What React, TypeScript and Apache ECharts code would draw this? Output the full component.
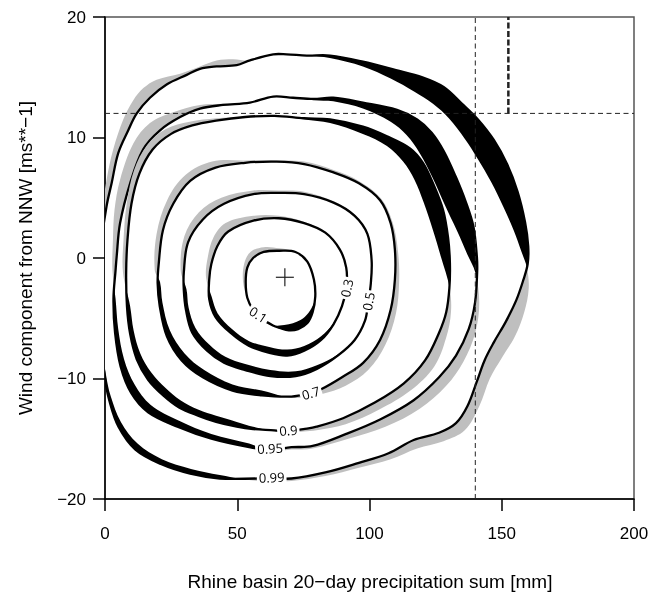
import React, { useEffect, useRef } from 'react';
import * as echarts from 'echarts';

// ---- axes ----
const xTicks = [0, 50, 100, 150, 200];
const yTicks = [-20, -10, 0, 10, 20];

// ---- reference lines ----
const hRef = 12;
const vRef = 140;
const vRef2 = 152.5;
const centerMark = [68, -1.6];

// ---- contour curves (black line "L" and companion curve "O") ----
const L099 = [[-2, 0], [0.6, 4.3], [2.5, 6.2], [5.0, 8.7], [8.8, 10.6], [12.0, 12.0], [17.0, 13.3], [23.3, 14.4], [30.9, 15.2], [35.9, 15.7], [42.2, 15.9], [49.8, 16.0], [54.8, 16.4], [63.6, 16.9], [68.7, 16.9], [76.3, 16.8], [85.1, 16.8], [97.5, 16.3], [110, 15.6], [120, 15.0], [128, 14.2], [135, 12.8], [141, 11.5], [147, 9.8], [152, 7.8], [156, 5.5], [158.8, 3], [160, 1], [159.8, -0.5], [158.2, -1.8], [155.5, -3.5], [151.5, -5.3], [147, -7], [143.5, -8.5], [140.5, -10.3], [137, -12.3], [132.7, -13.7], [126.3, -14.5], [116.7, -15.1], [107.2, -16.2], [96.0, -17.0], [83.3, -17.8], [70.5, -18.3], [57.7, -18.3], [43.4, -18.3], [32.2, -17.9], [21.1, -17.1], [11.5, -15.9], [5.1, -14.0], [1.6, -11.8], [0, -10.0], [-2, -6]];
const O099 = [[-2, 0], [-1, 4], [0.6, 6.5], [3.1, 9.0], [6.9, 11.5], [10.7, 13.1], [14.5, 14.1], [19.5, 14.8], [28.4, 15.3], [35.9, 15.9], [42.2, 16.4], [48.5, 16.5], [54.8, 16.4], [63.6, 16.9], [68.7, 16.9], [76.3, 16.8], [85, 16.6], [97.5, 15.9], [108, 14.9], [117, 13.8], [124, 12.8], [130, 11.6], [136, 9.9], [141, 8.2], [146, 6.3], [150.5, 4.3], [154.5, 2.3], [157.5, 0.5], [159.5, -0.8], [160.2, -2.5], [158.5, -4.5], [155, -6.5], [150, -8.3], [145.5, -10], [141.5, -12.3], [136, -14.3], [128, -15.2], [118, -15.8], [108, -16.7], [96, -17.4], [83.3, -18.1], [70.5, -18.5], [57.7, -18.5], [43.4, -18.0], [32.5, -17.5], [21.5, -16.7], [12.3, -15.4], [6.0, -13.6], [2.2, -11.5], [0.3, -9.6], [-2, -6]];

const L095 = [[4.0, -1], [4.4, 0.1], [5.7, 2.9], [9.5, 6.2], [14.4, 9.0], [20.8, 10.6], [28.4, 11.7], [35.9, 12.4], [44.6, 12.7], [54.8, 12.9], [63.6, 13.4], [71.1, 13.3], [78.8, 13.2], [86.3, 13.3], [97.5, 12.9], [110.4, 12.3], [118, 11.5], [123.5, 10.4], [128, 8.9], [132.5, 6.8], [136.5, 4.6], [139.3, 2.6], [140.6, 0.1], [140.7, -1.2], [139.9, -3.7], [137.5, -5.9], [132.7, -8.1], [126.3, -9.9], [116.7, -11.8], [104.0, -13.4], [91.2, -14.6], [78.5, -15.6], [70.5, -15.7], [62.5, -15.9], [54.5, -15.7], [40.2, -15.0], [27.4, -14.0], [16.3, -12.8], [9.9, -11.2], [5.9, -9.0], [3.8, -6.2], [3.2, -3.4]];
const O095 = [[2.8, -1], [3.0, 1.5], [3.6, 4.0], [5.7, 6.5], [10.7, 9.5], [17, 11.2], [25.8, 12.1], [35.9, 12.7], [44.6, 12.8], [54.8, 12.9], [63.6, 13.4], [71.1, 13.3], [78.8, 13.1], [86.3, 13.0], [97.5, 12.4], [108, 11.3], [114, 10.2], [119, 8.7], [124, 6.6], [128.5, 4.4], [133, 2.3], [137, 0.3], [140, -1.2], [141.5, -3.7], [140, -6.2], [135.5, -8.6], [129, -10.6], [119, -12.5], [106, -14.0], [92, -15.0], [78.5, -15.8], [70.5, -15.9], [62.5, -16], [54.5, -15.4], [40.2, -14.6], [28, -13.5], [17.3, -12.2], [11.2, -10.5], [7.2, -8.4], [5.0, -5.9], [4.0, -3.4]];

const L090 = [[8.0, -1.2], [8.5, 1.5], [10, 4.5], [13, 7.0], [18, 9.0], [25, 10.3], [33, 11.0], [42, 11.4], [53, 11.7], [64.1, 11.8], [75.3, 11.6], [85.1, 11.5], [97.5, 10.9], [106.6, 10.1], [115.3, 9.1], [120.2, 7.9], [124, 6.2], [127.8, 4.0], [129.7, 1.7], [130.4, -0.4], [130.2, -2.5], [129.0, -4.5], [126.3, -6.2], [121, -8.5], [113, -10.4], [102, -12.0], [90, -13.3], [80, -14.0], [75, -14.2], [69, -14.4], [64.1, -14.3], [56, -14.2], [49.8, -14.0], [42, -13.6], [35.4, -13.1], [28, -12.4], [22, -11.4], [16.3, -10.1], [12, -8.4], [9.5, -6.3], [8.3, -4.0]];
const O090 = [[6.8, -1.2], [7.0, 1.5], [8.2, 4.5], [11, 7.3], [16, 9.4], [23, 10.7], [32, 11.3], [42, 11.6], [53, 11.7], [64.1, 11.8], [75.3, 11.5], [85.1, 11.2], [97.5, 10.3], [106.6, 9.3], [112.7, 8.0], [117, 6.5], [120.5, 4.6], [124, 2.3], [127, 0.1], [130.3, -2.5], [130.8, -4.5], [129, -6.6], [124.5, -9], [115.5, -11], [103.5, -12.6], [91, -13.8], [80, -14.3], [75, -14.4], [69, -14.5], [64.1, -14.4], [56, -14.0], [49.8, -13.6], [42, -13.1], [35.4, -12.6], [28.5, -11.8], [23, -10.8], [17.5, -9.5], [13.3, -7.9], [10.8, -6.0], [9.5, -4.0]];

const L070 = [[20.3, -0.5], [21.9, 2.3], [25.8, 4.5], [32.2, 6.4], [41.8, 7.5], [53.0, 7.9], [64.9, 8.0], [75.3, 7.8], [86.4, 7.1], [96.0, 6.2], [104.0, 4.8], [108.0, 2.9], [109.6, 0.7], [109.6, -1.8], [108.0, -4.3], [104.0, -6.8], [97.6, -8.7], [89.6, -9.9], [81.7, -10.9], [77.7, -11.2], [70.5, -11.5], [59.3, -11.4], [48.2, -11.0], [37.0, -9.9], [29.0, -8.5], [23.4, -6.5], [20.7, -4.0], [19.9, -2.1]];
const O070 = [[18.8, -1.0], [19.5, 2.0], [23.5, 4.8], [30.5, 6.9], [40.5, 8.0], [53.0, 8.1], [64.9, 8.1], [75.3, 8.0], [86.4, 7.3], [96.0, 6.4], [104.5, 4.9], [108.8, 2.9], [110.8, 0.5], [111.2, -2.0], [110, -4.6], [106, -7.2], [99.5, -9.3], [91, -10.6], [81.7, -11.3], [70.5, -11.6], [59.3, -11.0], [48.2, -10.5], [37.5, -9.3], [30, -7.9], [24.5, -6.0], [21.7, -3.7], [20.8, -2.0]];

const L050 = [[29.8, -1.2], [31.4, 1.3], [37.0, 3.2], [45.0, 4.5], [56.1, 5.3], [65.7, 5.4], [75.3, 5.3], [86.4, 4.6], [94.4, 3.5], [99.2, 2.0], [100.8, -0.2], [100.5, -2.1], [99.5, -3.7], [98.3, -5.2], [94.4, -6.8], [88.0, -8.1], [80.1, -9.2], [72.1, -9.8], [62.5, -9.8], [53.0, -9.3], [45.0, -8.7], [38.6, -7.7], [33.0, -6.2], [30.6, -4.3], [29.8, -2.7]];
const O050 = [[28.6, -1.0], [30.0, 1.8], [35.5, 3.8], [44.0, 5.0], [56.1, 5.6], [65.7, 5.6], [75.3, 5.5], [86.4, 4.7], [94.4, 3.6], [99.2, 2.0], [100.8, -0.2], [100.5, -2.1], [99.5, -3.7], [98.3, -5.2], [94.4, -6.8], [88.0, -8.0], [80.1, -8.9], [72.1, -9.4], [62.5, -9.3], [53.0, -8.8], [45.5, -8.2], [39.5, -7.2], [34.2, -5.8], [31.6, -4.1], [30.8, -2.6]];

const L030 = [[40.2, -0.5], [42.5, 1.0], [46.6, 2.2], [56.1, 3.1], [65.7, 3.3], [75.3, 2.9], [83.3, 2.1], [88.8, 0.7], [91.2, -0.8], [91.3, -2.4], [89.6, -4.0], [86.4, -5.5], [81.7, -6.8], [75.3, -7.7], [68.9, -8.1], [62.5, -7.9], [54.5, -7.3], [47.4, -6.2], [41.8, -4.9], [39.4, -3.4], [39.4, -1.8]];
const O030 = [[38.8, 0.0], [41.0, 1.7], [45.6, 2.9], [56.1, 3.5], [65.7, 3.5], [75.3, 3.0], [83.3, 2.1], [88.8, 0.7], [91.2, -0.8], [91.3, -2.4], [89.6, -4.0], [86.4, -5.4], [81.7, -6.5], [75.3, -7.3], [68.9, -7.6], [62.5, -7.4], [54.5, -6.9], [48, -5.9], [42.6, -4.6], [40.3, -3.2], [38.2, -1.6]];

const L010 = [[53.8, -0.8], [56, 0.0], [60, 0.5], [66, 0.6], [72, 0.5], [76.5, -0.3], [79, -1.8], [79.5, -3.2], [78.5, -4.5], [76.5, -5.4], [73, -5.9], [69.5, -6.0], [66, -5.8], [63.5, -5.6], [59, -5.0], [56, -4.3], [53.8, -3.3], [53.2, -2.0]];
const O010 = [[52.6, -0.5], [55, 0.5], [60, 0.9], [66, 0.8], [72, 0.5], [76.5, -0.3], [79, -1.8], [79.5, -3.2], [78, -4.2], [75.5, -4.9], [72.5, -5.3], [69.5, -5.5], [66, -5.6], [63.5, -5.6], [59, -5.0], [56, -4.3], [53.8, -3.3], [52.2, -2.0]];

// ---- contour labels: text, x, y, rotation (deg, anticlockwise) ----
const labelTexts = ['0.99', '0.95', '0.9', '0.7', '0.5', '0.3', '0.1'];
const labelX = [63.0, 62.4, 69.3, 77.8, 99.6, 91.4, 58.0];
const labelY = [-18.2, -15.8, -14.3, -11.2, -3.6, -2.5, -4.7];
const labelRot = [2, 3, 5, 16, 80, 78, -33];

const contourLevels = [
  { line: L099, other: O099 },
  { line: L095, other: O095 },
  { line: L090, other: O090 },
  { line: L070, other: O070 },
  { line: L050, other: O050 },
  { line: L030, other: O030 },
  { line: L010, other: O010 },
];

const GREY = '#bfbfbf';
const SMOOTH = 0.35;

export default function App() {
  const ref = useRef<HTMLDivElement>(null);
  useEffect(() => {
    if (!ref.current) return;
    const chart = echarts.init(ref.current, null, { renderer: 'svg' });

    const contourSeries: any[] = contourLevels.map((lv) => ({
      type: 'custom',
      coordinateSystem: 'cartesian2d',
      clip: true,
      silent: true,
      z: 2,
      data: [[0, 0]],
      renderItem: (_params: any, api: any) => {
        const px = (pts: number[][]) => pts.map((p) => api.coord(p));
        const lp = px(lv.line);
        const op = px(lv.other);
        return {
          type: 'group',
          children: [
            { type: 'polygon', shape: { points: op, smooth: SMOOTH }, style: { fill: GREY } },
            { type: 'polygon', shape: { points: lp, smooth: SMOOTH }, style: { fill: '#000' } },
            {
              type: 'polygon',
              shape: { points: op, smooth: SMOOTH },
              style: { fill: '#fff' },
              clipPath: { type: 'polygon', shape: { points: lp, smooth: SMOOTH } },
            },
            { type: 'polygon', shape: { points: lp, smooth: SMOOTH }, style: { fill: 'none', stroke: '#000', lineWidth: 2.3 } },
          ],
        };
      },
    }));

    const labelSeries = {
      type: 'custom',
      coordinateSystem: 'cartesian2d',
      silent: true,
      z: 4,
      data: labelTexts.map((t, i) => [labelX[i], labelY[i], labelRot[i]]),
      renderItem: (params: any, api: any) => {
        const i = params.dataIndex;
        const c = api.coord([api.value(0), api.value(1)]);
        return {
          type: 'text',
          x: c[0],
          y: c[1],
          rotation: (api.value(2) * Math.PI) / 180,
          style: {
            text: labelTexts[i],
            fontSize: 13,
            fontFamily: 'Open Sans',
            fill: '#000',
            textAlign: 'center',
            textVerticalAlign: 'middle',
            backgroundColor: '#fff',
            padding: [0, 2],
          },
        };
      },
    };

    const markSeries = {
      type: 'custom',
      coordinateSystem: 'cartesian2d',
      silent: true,
      z: 5,
      data: [centerMark],
      renderItem: (_params: any, api: any) => {
        const c = api.coord([api.value(0), api.value(1)]);
        const a = 9;
        return {
          type: 'group',
          children: [
            { type: 'line', shape: { x1: c[0] - a, y1: c[1], x2: c[0] + a, y2: c[1] }, style: { stroke: '#222', lineWidth: 1.2 } },
            { type: 'line', shape: { x1: c[0], y1: c[1] - a, x2: c[0], y2: c[1] + a }, style: { stroke: '#222', lineWidth: 1.2 } },
          ],
        };
      },
    };

    const dashSeries = [
      { data: [[xTicks[0], hRef], [xTicks[xTicks.length - 1], hRef]], width: 1, dash: [5, 3.5] },
      { data: [[vRef, yTicks[0]], [vRef, yTicks[yTicks.length - 1]]], width: 1, dash: [5, 3.5] },
      { data: [[vRef2, hRef], [vRef2, yTicks[yTicks.length - 1]]], width: 2.5, dash: [6, 2.5] },
    ].map((d) => ({
      type: 'line',
      data: d.data,
      symbol: 'none',
      silent: true,
      z: 6,
      lineStyle: { color: '#222', width: d.width, type: d.dash },
    }));

    const axisCommon = {
      type: 'value',
      axisLine: { show: true, onZero: false, lineStyle: { color: '#000', width: 1.5 } },
      axisTick: { show: true, inside: false, length: 12, lineStyle: { color: '#000', width: 1.5 } },
      splitLine: { show: false },
    };

    chart.setOption({
      animation: false,
      grid: {
        left: 105,
        top: 17,
        width: 529,
        height: 482,
        show: true,
        borderColor: '#555',
        borderWidth: 1.5,
        backgroundColor: 'transparent',
      },
      xAxis: {
        ...axisCommon,
        min: xTicks[0],
        max: xTicks[xTicks.length - 1],
        interval: 50,
        axisLabel: { margin: 26, fontSize: 17, color: '#000', fontFamily: 'Liberation Sans' },
      },
      yAxis: {
        ...axisCommon,
        min: yTicks[0],
        max: yTicks[yTicks.length - 1],
        interval: 10,
        axisLabel: {
          margin: 19,
          fontSize: 17,
          color: '#000',
          fontFamily: 'Liberation Sans',
          formatter: (v: number) => String(v).replace('-', '\u2212'),
        },
      },
      graphic: [
        {
          type: 'text',
          x: 370,
          y: 581,
          style: {
            text: 'Rhine basin 20\u2212day precipitation sum [mm]',
            fontSize: 19,
            fontFamily: 'Liberation Sans',
            fill: '#000',
            textAlign: 'center',
            textVerticalAlign: 'middle',
          },
        },
        {
          type: 'text',
          x: 25,
          y: 258,
          rotation: Math.PI / 2,
          style: {
            text: 'Wind component from NNW [ms**\u22121]',
            fontSize: 19,
            fontFamily: 'Liberation Sans',
            fill: '#000',
            textAlign: 'center',
            textVerticalAlign: 'middle',
          },
        },
      ],
      series: [...contourSeries, labelSeries, markSeries, ...dashSeries],
    });

    return () => chart.dispose();
  }, []);

  return <div ref={ref} style={{ position: 'fixed', left: 0, top: 0, width: 662, height: 592 }} />;
}
